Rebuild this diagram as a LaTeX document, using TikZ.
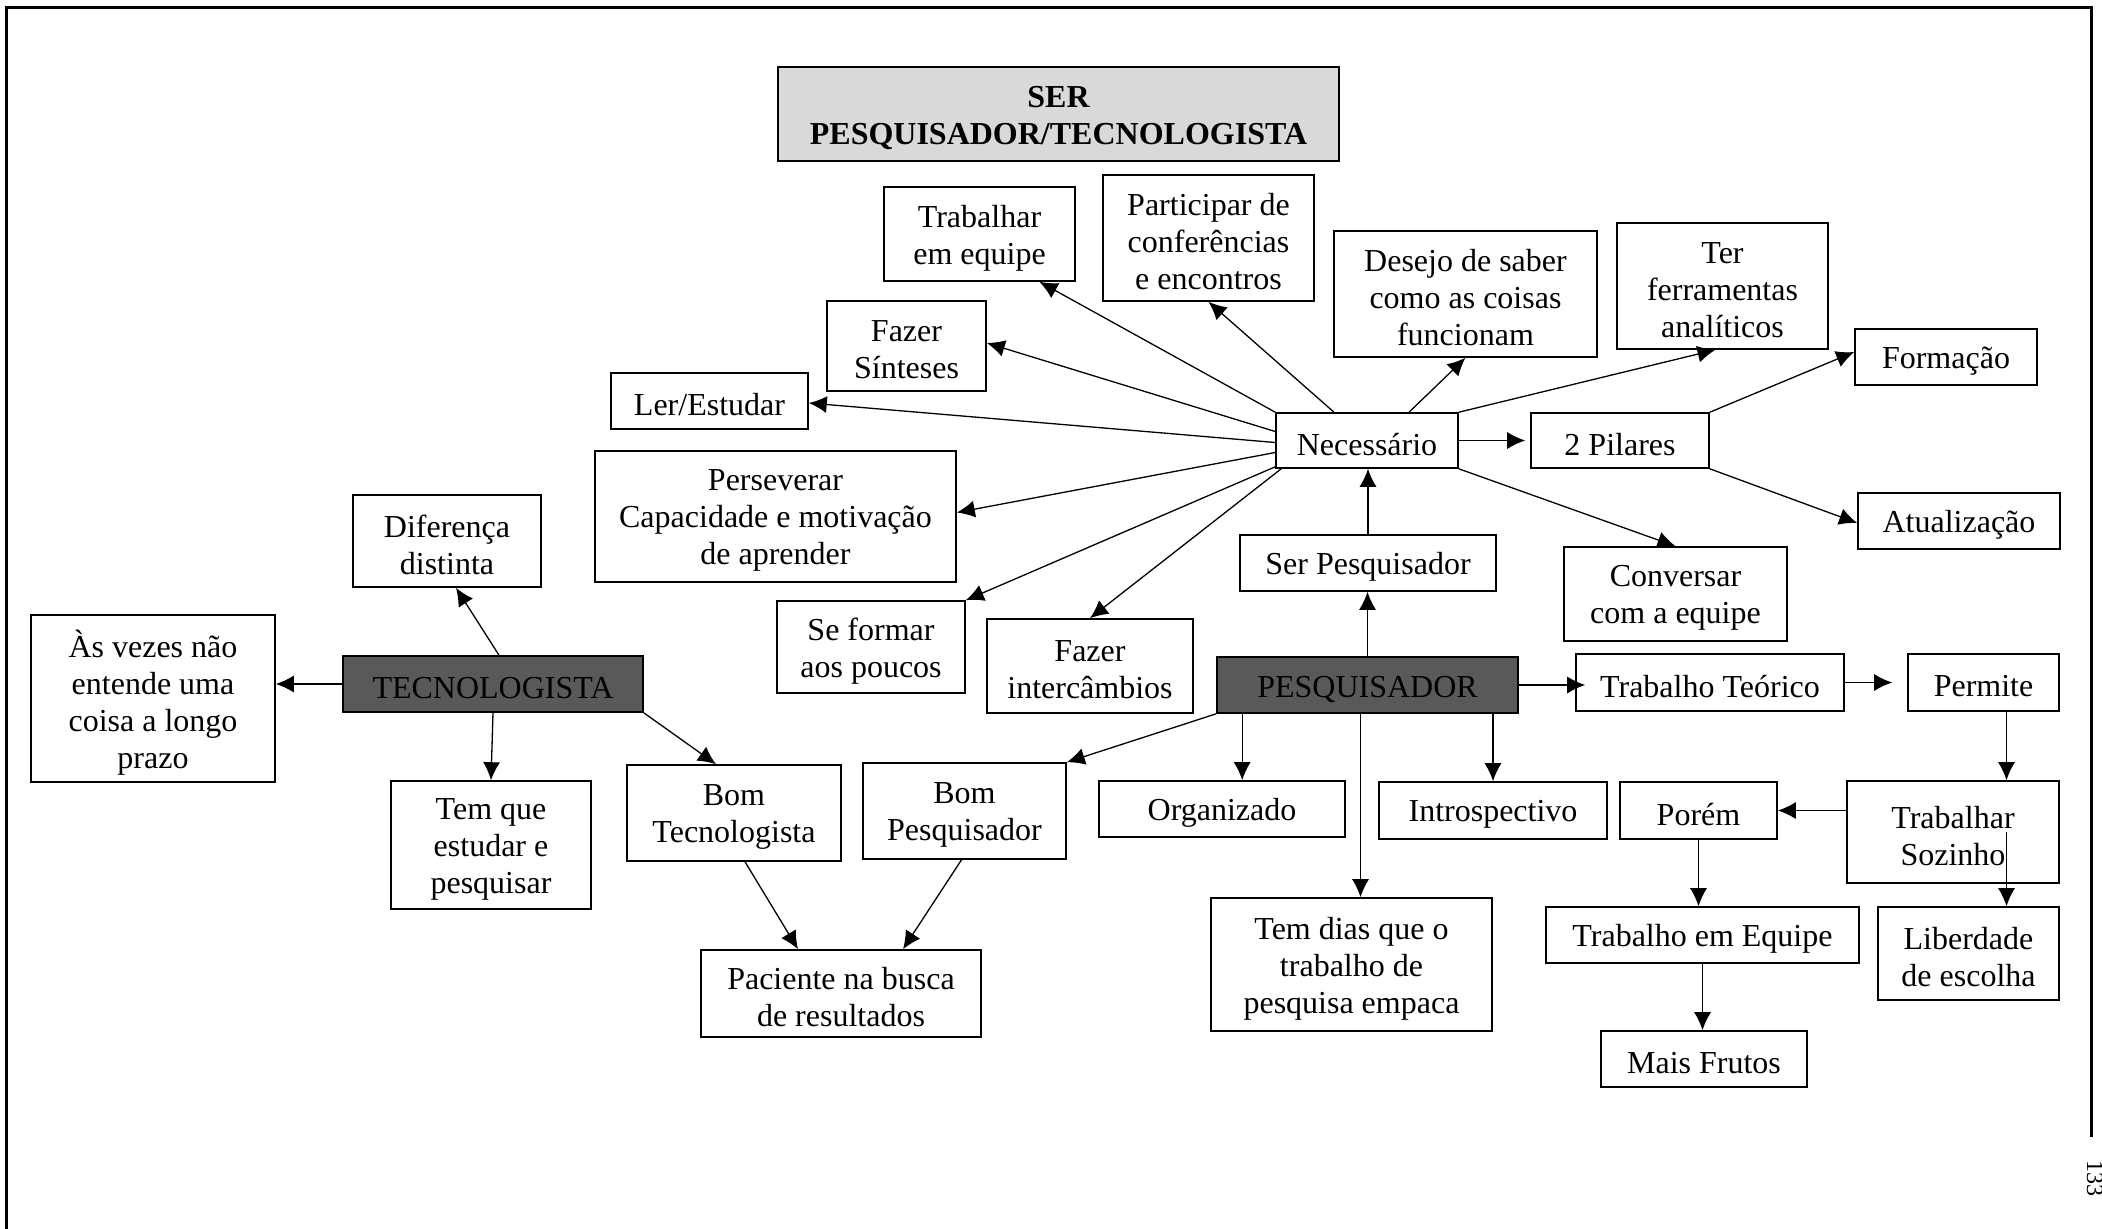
\documentclass[tikz,border=0pt]{standalone}
\usepackage{fontspec}
\setmainfont{Liberation Serif}
\usetikzlibrary{arrows.meta}

\tikzset{
  cbox/.style={draw, line width=1.6pt, inner sep=0pt},
  boxtext/.style={inner sep=0pt, align=center, yshift=-4pt,
    font=\fontsize{32}{37}\selectfont},
  darkbox/.style={fill=black!65},
  titlebox/.style={fill=black!15},
  link/.style={line width=1.3pt, -{Latex[length=18pt,width=17pt]}},
}

% box given by its corners: [box style]{name}{x1}{y1}{x2}{y2}{text}
\newcommand\cmapnode[7][]{%
  \node[cbox,#1,minimum width={(#5-#3)*1pt},minimum height={(#6-#4)*1pt},
    label={[boxtext]center:{#7}}]
    (#2) at ({(#3+#5)/2},{(#4+#6)/2}) {};}

\begin{document}
\begin{tikzpicture}[x=1pt,y=-1pt]
\useasboundingbox (0,0) rectangle (2102,1229);

% page frame
\draw[line width=3pt] (6,1229) -- (6,7) -- (2091,7) -- (2091,1137);
\node[rotate=-90, anchor=base west, inner sep=0pt,
  font=\fontsize{24}{28}\selectfont] (pageno) at (2087,1160) {133};

% boxes
\cmapnode[titlebox]{title}{778}{67}{1339}{161}{\bfseries SER\\\bfseries PESQUISADOR/TECNOLOGISTA}
\cmapnode{trab}{884}{187}{1075}{281}{Trabalhar\\em equipe}
\cmapnode{part}{1103}{175}{1314}{301}{Participar de\\conferências\\e encontros}
\cmapnode{desejo}{1334}{231}{1597}{357}{Desejo de saber\\como as coisas\\funcionam}
\cmapnode{ter}{1617}{223}{1828}{349}{Ter\\ferramentas\\analíticos}
\cmapnode{form}{1855}{329}{2037}{385}{Formação}
\cmapnode{sint}{827}{301}{986}{391}{Fazer\\Sínteses}
\cmapnode{ler}{611}{373}{808}{429}{Ler/Estudar}
\cmapnode{nec}{1276}{413}{1458}{468}{Necessário}
\cmapnode{pil}{1531}{413}{1709}{468}{2 Pilares}
\cmapnode{atual}{1858}{493}{2060}{549}{Atualização}
\cmapnode{pers}{595}{451}{956}{582}{Perseverar\\Capacidade e motivação\\de aprender}
\cmapnode{dif}{353}{495}{541}{587}{Diferença\\distinta}
\cmapnode{serp}{1240}{535}{1496}{591}{Ser Pesquisador}
\cmapnode{conv}{1564}{547}{1787}{641}{Conversar\\com a equipe}
\cmapnode{sefor}{777}{601}{965}{693}{Se formar\\aos poucos}
\cmapnode{inter}{987}{619}{1193}{713}{Fazer\\intercâmbios}
\cmapnode{asvez}{31}{615}{275}{782}{Às vezes não\\entende uma\\coisa a longo\\prazo}
\cmapnode[darkbox]{tec}{343}{656}{643}{712}{TECNOLOGISTA}
\cmapnode[darkbox]{pesq}{1217}{657}{1518}{713}{PESQUISADOR}
\cmapnode{tt}{1576}{654}{1844}{711}{Trabalho Teórico}
\cmapnode{perm}{1908}{654}{2059}{711}{Permite}
\cmapnode{temq}{391}{781}{591}{909}{Tem que\\estudar e\\pesquisar}
\cmapnode{bomt}{627}{765}{841}{861}{Bom\\Tecnologista}
\cmapnode{bomp}{863}{763}{1066}{859}{Bom\\Pesquisador}
\cmapnode{org}{1099}{781}{1345}{837}{Organizado}
\cmapnode{intro}{1379}{782}{1607}{839}{Introspectivo}
\cmapnode{porem}{1620}{782}{1777}{839}{Porém}
\cmapnode{ts}{1847}{781}{2059}{883}{Trabalhar\\Sozinho}
\cmapnode{temd}{1211}{898}{1492}{1031}{Tem dias que o\\trabalho de\\pesquisa empaca}
\cmapnode{te}{1546}{907}{1859}{963}{Trabalho em Equipe}
\cmapnode{lib}{1878}{907}{2059}{1000}{Liberdade\\de escolha}
\cmapnode{pac}{701}{950}{981}{1037}{Paciente na busca\\de resultados}
\cmapnode{mf}{1601}{1031}{1807}{1087}{Mais Frutos}

% what is needed
\draw[link] (nec.north west) -- ([xshift=60pt]trab.south);
\draw[link] ([xshift=-33pt]nec.north) -- (part.south);
\draw[link] ([yshift=9pt]nec.west) -- ([yshift=3pt]sint.east);
\draw[link] ([yshift=-2pt]nec.west) -- ([yshift=-2pt]ler.east);
\draw[link] ([yshift=-12pt]nec.west) -- ([yshift=4pt]pers.east);
\draw[link] ([yshift=2pt]nec.south west) -- (sefor.north east);
\draw[link] ([xshift=6pt]nec.south west) -- (inter.north);
\draw[link] ([xshift=42pt]nec.north) -- (desejo.south);
\draw[link] (nec.north east) -- ([xshift=-7pt]ter.south);
\draw[link] (nec.east) -- ([xshift=-5pt]pil.west);
\draw[link] (nec.south east) -- (conv.north);
\draw[link] (pil.north east) -- ([yshift=5pt]form.west);
\draw[link] (pil.south east) -- ([yshift=-2pt]atual.west);
\draw[link] (serp.north) -- (serp.north |- nec.south);
\draw[link] (pesq.north) -- (pesq.north |- serp.south);

% tecnologista
\draw[link] ([xshift=6pt]tec.north) -- ([xshift=9pt]dif.south);
\draw[link] (tec.west) -- (tec.west -| asvez.east);
\draw[link] (tec.south) -- (temq.north);
\draw[link] (tec.south east) -- ([xshift=-18pt]bomt.north);
\draw[link] ([xshift=11pt]bomt.south) -- ([xshift=-43pt]pac.north);
\draw[link] ([xshift=-3pt]bomp.south) -- ([xshift=62pt]pac.north);

% pesquisador
\coordinate (porg) at ([xshift=26pt]pesq.south west);
\coordinate (ptd) at ([xshift=-7pt]pesq.south);
\coordinate (ttin) at ([xshift=10pt]tt.west);
\coordinate (pdown) at ([xshift=23pt]perm.south);
\draw[link] (pesq.south west) -- (bomp.north east);
\draw[link] (porg) -- (porg |- org.north);
\draw[link] (ptd) -- (ptd |- temd.north);
\draw[link] (intro.north |- pesq.south) -- (intro.north);
\draw[link] (pesq.east) -- (pesq.east -| ttin);
\draw[link] (tt.east) -- ([xshift=-15pt]perm.west);
\draw[link] (pdown) -- (pdown |- ts.north);
\draw[link] (ts.west |- porem.east) -- (porem.east);
\draw[link] (pdown |- ts.center) -- (pdown |- lib.north);
\draw[link] (porem.south) -- (porem.south |- te.north);
\draw[link] (te.south) -- (te.south |- mf.north);
\end{tikzpicture}
\end{document}
